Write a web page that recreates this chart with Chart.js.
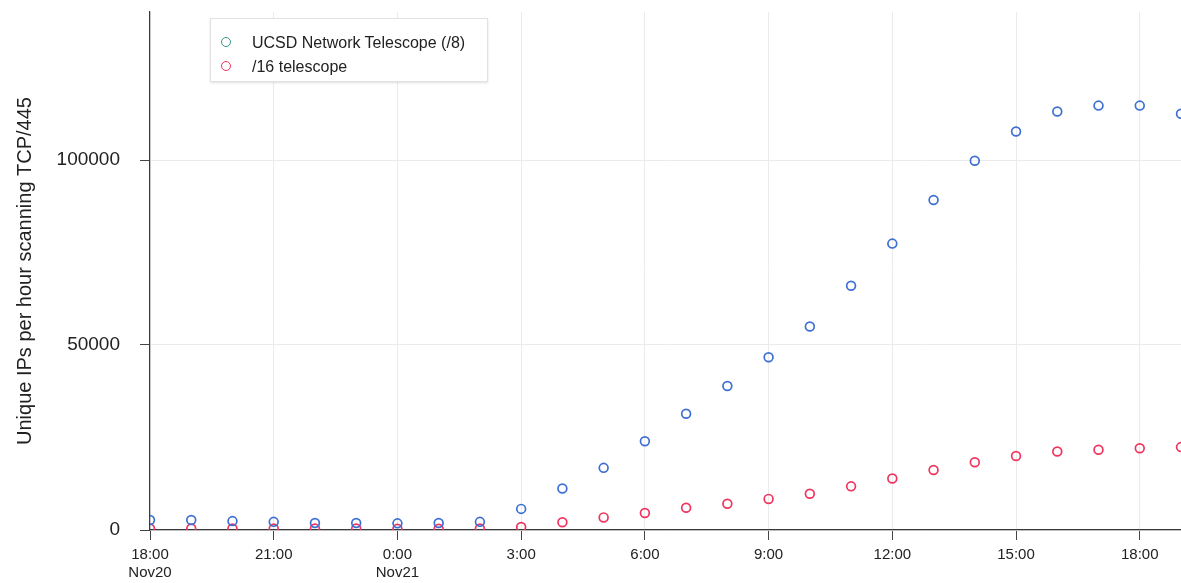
<!DOCTYPE html>
<html>
<head>
<meta charset="utf-8">
<script src="https://cdn.jsdelivr.net/npm/chart.js@4/dist/chart.umd.min.js"></script>
<style>
  body { margin: 0; background: #fff; }
  #wrap { position: relative; width: 1181px; height: 583px; }
  #legend {
    position: absolute; left: 210px; top: 18px; width: 276px; height: 62px;
    background: #fff; border: 1px solid #e2e2e2; box-shadow: 0 1px 2px rgba(0,0,0,0.12);
    font-family: "Liberation Sans", Arial, sans-serif; font-size: 16px; color: #222;
  }
  #legend .item { position: absolute; left: 0; height: 20px; line-height: 20px; white-space: nowrap; }
  #legend .dot {
    position: absolute; left: 10px; top: 4px; width: 8px; height: 8px;
    border-radius: 50%; border: 1.8px solid;
  }
  #legend .txt { position: absolute; left: 41px; top: 0; }
</style>
</head>
<body>
<div id="wrap">
  <canvas id="chart" width="1181" height="583"></canvas>
  <div id="legend"></div>
</div>
<script>
// hours since 18:00 on Nov 20
const hours = [0, 1, 2, 3, 4, 5, 6, 7, 8, 9, 10, 11, 12, 13, 14, 15, 16, 17, 18, 19, 20, 21, 22, 23, 24, 25];

// unique source IPs per hour scanning TCP/445
const ucsdIPs = [2700, 2700, 2400, 2200, 1900, 1900, 1800, 1900, 2200, 5700, 11200, 16800, 24000,
  31400, 38900, 46700, 55000, 66000, 77400, 89200, 99800, 107700, 113100, 114700, 114700, 112500];
const slash16IPs = [400, 400, 400, 400, 400, 400, 350, 350, 400, 800, 2100, 3400, 4600,
  6000, 7100, 8400, 9800, 11800, 13900, 16200, 18300, 20000, 21200, 21700, 22100, 22400];

const seriesNames = ["UCSD Network Telescope (/8)", "/16 telescope"];
const legendColors = ["#3a9488", "#f0345e"];

const xTickHours = [0, 3, 6, 9, 12, 15, 18, 21, 24];
const xTickLabels = [["18:00", "Nov20"], "21:00", ["0:00", "Nov21"], "3:00", "6:00", "9:00", "12:00", "15:00", "18:00"];
const yTicks = [0, 50000, 100000];
const yTickLabels = ["0", "50000", "100000"];

const blue = "#3e6fd3";
const red = "#f0345e";
const font = "'Liberation Sans', Arial, sans-serif";

function toPoints(vals) {
  return vals.map((v, i) => ({ x: hours[i], y: v }));
}

// no extra room for label overhang, the plot runs to the canvas edge
function noPadding(axis) {
  axis.paddingTop = 0;
  axis.paddingBottom = 0;
  axis.paddingLeft = 0;
  axis.paddingRight = 0;
}

// legend box
const legend = document.getElementById("legend");
seriesNames.forEach((name, i) => {
  const row = document.createElement("div");
  row.className = "item";
  row.style.top = (14 + i * 24) + "px";
  row.innerHTML = `<span class="dot" style="border-color:${legendColors[i]}"></span><span class="txt">${name}</span>`;
  legend.appendChild(row);
});

const ctx = document.getElementById("chart").getContext("2d");
new Chart(ctx, {
  type: "scatter",
  data: {
    datasets: [
      {
        label: seriesNames[0],
        data: toPoints(ucsdIPs),
        borderColor: blue,
        backgroundColor: "rgba(0,0,0,0)",
        pointRadius: 4.4,
        pointBorderWidth: 1.7
      },
      {
        label: seriesNames[1],
        data: toPoints(slash16IPs),
        borderColor: red,
        backgroundColor: "rgba(0,0,0,0)",
        pointRadius: 4.4,
        pointBorderWidth: 1.7
      }
    ]
  },
  options: {
    responsive: false,
    animation: false,
    layout: { autoPadding: false, padding: { top: 12, right: 0, left: 0, bottom: 0 } },
    plugins: {
      legend: { display: false },
      tooltip: { enabled: false }
    },
    scales: {
      x: {
        type: "linear",
        min: 0,
        max: 25,
        afterBuildTicks: (axis) => { axis.ticks = xTickHours.map(v => ({ value: v })); },
        afterFit: (axis) => { axis.height = 53; noPadding(axis); },
        grid: { color: "#ebebeb", tickColor: "#444", tickLength: 10, lineWidth: 1 },
        border: { color: "#3a3a3a", width: 1.2 },
        ticks: {
          autoSkip: false,
          maxRotation: 0,
          padding: 6,
          color: "#222",
          font: { family: font, size: 15, lineHeight: 1.2 },
          callback: (v) => xTickLabels[xTickHours.indexOf(v)]
        }
      },
      y: {
        min: 0,
        max: 140000,
        afterBuildTicks: (axis) => { axis.ticks = yTicks.map(v => ({ value: v })); },
        afterFit: (axis) => { axis.width = 150; noPadding(axis); },
        grid: { color: "#ebebeb", tickColor: "#444", tickLength: 10, lineWidth: 1 },
        border: { color: "#3a3a3a", width: 1.2 },
        title: {
          display: true,
          text: "Unique IPs per hour scanning TCP/445",
          color: "#222",
          font: { family: font, size: 20 },
          padding: { top: 13, bottom: 0 }
        },
        ticks: {
          padding: 20,
          color: "#222",
          font: { family: font, size: 19 },
          callback: (v) => yTickLabels[yTicks.indexOf(v)]
        }
      }
    }
  }
});
</script>
</body>
</html>
